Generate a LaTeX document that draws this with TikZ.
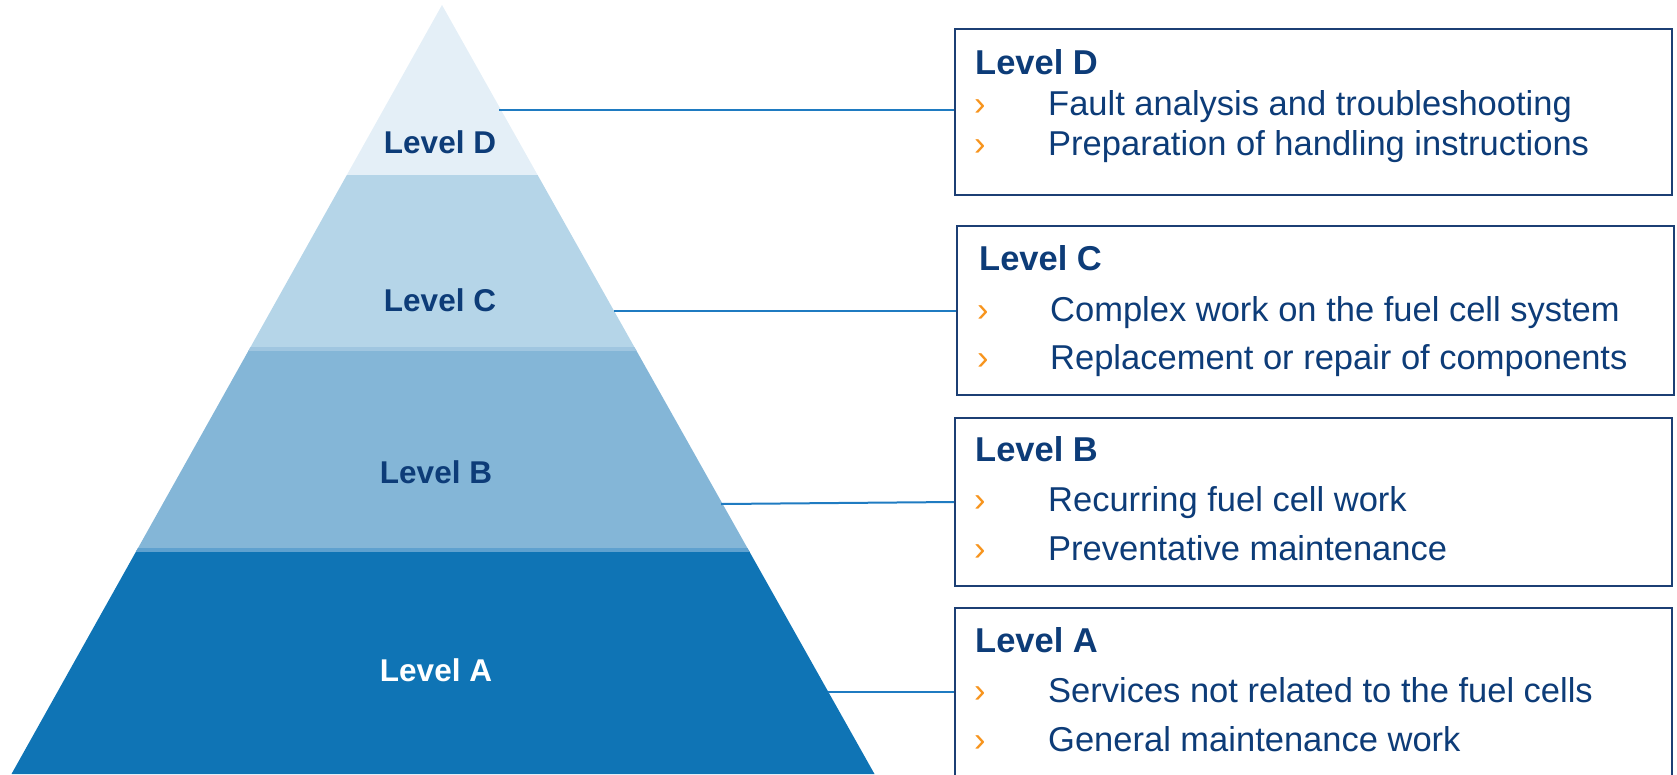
\documentclass[tikz,border=0pt]{standalone}
\usepackage{fontspec}
\setmainfont{Liberation Sans}
\definecolor{bandD}{HTML}{E4EFF7}
\definecolor{bandC}{HTML}{B5D5E8}
\definecolor{bandB}{HTML}{84B6D7}
\definecolor{bandA}{HTML}{0F74B5}
\definecolor{sepCB}{HTML}{A0C6E0}
\definecolor{sepBA}{HTML}{5FA1CF}
\definecolor{navy}{HTML}{0D3C78}
\definecolor{boxc}{HTML}{1C3F74}
\definecolor{connc}{HTML}{1F7BC1}
\definecolor{orng}{HTML}{F7941D}
\begin{document}
\begin{tikzpicture}[x=1pt,y=-1pt,
  box/.style={draw=boxc, line width=2pt, minimum width=717pt, inner sep=0pt},
  conn/.style={draw=connc, line width=2pt},
  plabel/.style={anchor=base, inner sep=0pt, font=\fontsize{31.5}{36}\selectfont\bfseries, text=navy},
  btitle/.style={anchor=base west, inner sep=0pt, font=\fontsize{34.5}{40}\selectfont\bfseries, text=navy},
  bitem/.style={anchor=base west, inner sep=0pt, font=\fontsize{34.5}{40}\selectfont, text=navy},
  chev/.style={anchor=base west, inner sep=0pt, font=\fontsize{34.5}{40}\selectfont, text=orng}]
\useasboundingbox (0,0) rectangle (1677,774);

% pyramid
\begin{scope}
\clip (442,5) -- (874.5,774) -- (11.5,774) -- cycle;
\fill[bandD] (0,0) rectangle (1677,175);
\fill[bandC] (0,175) rectangle (1677,349);
\fill[bandB] (0,349) rectangle (1677,550);
\fill[bandA] (0,550) rectangle (1677,780);
\fill[sepCB] (0,347) rectangle (1677,351);
\fill[sepBA] (0,548) rectangle (1677,552);
\end{scope}

\node[plabel] (lD) at (440,153) {Level D};
\node[plabel] (lC) at (440,311) {Level C};
\node[plabel] (lB) at (436,483) {Level B};
\node[plabel, text=white] (lA) at (436,681) {Level A};

% boxes
\node[box, minimum height=166pt] (bD) at (1313.5,112) {};
\node[box, minimum height=169pt] (bC) at (1315.5,310.5) {};
\node[box, minimum height=168pt] (bB) at (1313.5,502) {};
\node[box, minimum height=172pt] (bA) at (1313.5,694) {};

% connectors
\coordinate (eD) at (499,110);
\coordinate (eC) at (614,311);
\coordinate (eB) at (721,504);
\coordinate (eA) at (828,692);
\draw[conn] (eD) -- (eD -| bD.west);
\draw[conn] (eC) -- (eC -| bC.west);
\draw[conn] (eB) -- (bB.west);
\draw[conn] (eA) -- (eA -| bA.west);

% box D
\node[btitle] (tD) at (975,74) {Level D};
\node[chev] (cD1) at (974,115) {›};
\node[bitem] (iD1) at (1048,115) {Fault analysis and troubleshooting};
\node[chev] (cD2) at (974,155) {›};
\node[bitem] (iD2) at (1048,155) {Preparation of handling instructions};

% box C
\node[btitle] (tC) at (979,270) {Level C};
\node[chev] (cC1) at (977,321) {›};
\node[bitem] (iC1) at (1050,321) {Complex work on the fuel cell system};
\node[chev] (cC2) at (977,369) {›};
\node[bitem] (iC2) at (1050,369) {Replacement or repair of components};

% box B
\node[btitle] (tB) at (975,461) {Level B};
\node[chev] (cB1) at (974,511) {›};
\node[bitem] (iB1) at (1048,511) {Recurring fuel cell work};
\node[chev] (cB2) at (974,560) {›};
\node[bitem] (iB2) at (1048,560) {Preventative maintenance};

% box A
\node[btitle] (tA) at (975,652) {Level A};
\node[chev] (cA1) at (974,702) {›};
\node[bitem] (iA1) at (1048,702) {Services not related to the fuel cells};
\node[chev] (cA2) at (974,751) {›};
\node[bitem] (iA2) at (1048,751) {General maintenance work};
\end{tikzpicture}
\end{document}
